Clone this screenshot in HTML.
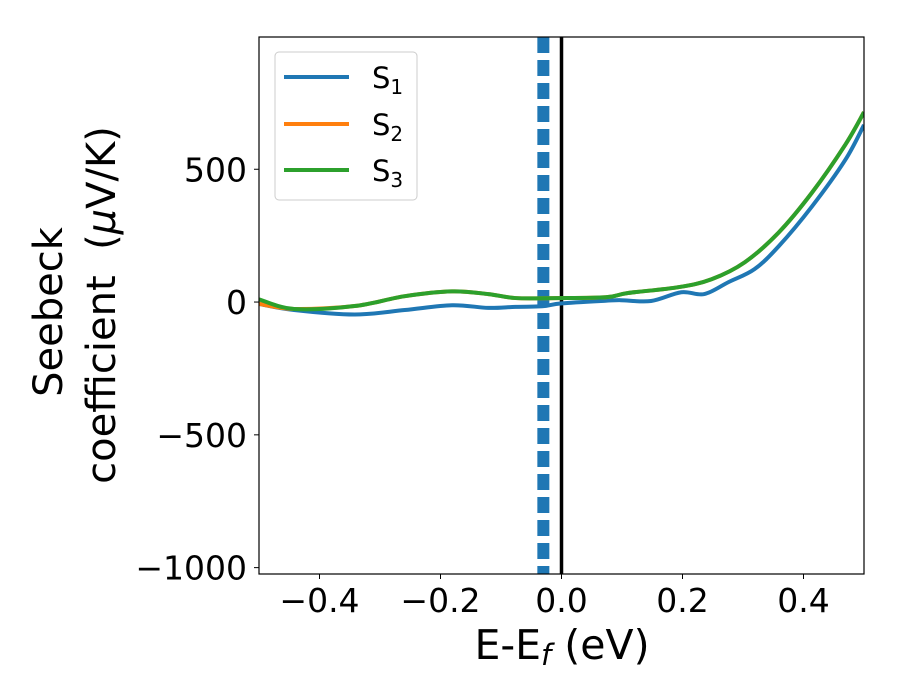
<!DOCTYPE html>
<html><head><meta charset="utf-8"><style>
body{margin:0;background:#fff}
svg{display:block;font-family:"DejaVu Sans","Liberation Sans",sans-serif}
</style></head><body>
<svg id="chart" width="900" height="700" viewBox="0 0 900 700">
<rect width="900" height="700" fill="#fff"/>
<g id="plot"></g>
<g><text x="562" y="659" font-size="41" text-anchor="middle" font-family="DejaVu Sans, sans-serif">E-E<tspan font-style="italic" font-size="29" dy="6">f</tspan><tspan dy="-6"> (eV)</tspan></text></g>
<g font-family="DejaVu Sans, sans-serif" font-size="40" text-anchor="middle">
<text transform="translate(62,312) rotate(-90)">Seebeck</text>
<text transform="translate(115,305) rotate(-90)">coefficient&#160; (<tspan font-style="italic">μ</tspan>V/K)</text>
</g>
<g font-family="DejaVu Sans, sans-serif" font-size="29">
<rect x="275" y="52" width="142" height="148" rx="4" fill="#fff" fill-opacity="0.8" stroke="#ccc"/>
<line x1="284" x2="349" y1="77" y2="77" stroke="#1f77b4" stroke-width="4"/>
<text x="372" y="88">S<tspan font-size="20" dy="6">1</tspan></text>
<line x1="284" x2="349" y1="124" y2="124" stroke="#ff7f0e" stroke-width="4"/>
<text x="372" y="135">S<tspan font-size="20" dy="6">2</tspan></text>
<line x1="284" x2="349" y1="170" y2="170" stroke="#2ca02c" stroke-width="4"/>
<text x="372" y="181">S<tspan font-size="20" dy="6">3</tspan></text>
</g>
</svg>
<script>
const xTicks=[-0.4,-0.2,0.0,0.2,0.4];
const xTickLabels=["\u22120.4","\u22120.2","0.0","0.2","0.4"];
const yTicks=[500,0,-500,-1000];
const yTickLabels=["500","0","\u2212500","\u22121000"];
const s1X=[-0.5,-0.442,-0.342,-0.259,-0.181,-0.121,-0.076,-0.032,0.0,0.073,0.098,0.148,0.198,0.236,0.276,0.319,0.359,0.414,0.469,0.5];
const s1Y=[-7,-30,-47,-30,-12,-22,-18,-16,-5,5,7,4,37,30,75,124,210,360,535,667];
const s23X=[-0.5,-0.442,-0.342,-0.259,-0.181,-0.121,-0.076,-0.01,0.073,0.11,0.193,0.248,0.303,0.359,0.414,0.469,0.5];
const s2Y=[-7,-26,-15,22,40,30,15,15,18,34,56,86,150,262,412,592,715];
const s3Y=[10,-26,-15,22,40,30,15,15,18,34,56,86,150,262,412,592,715];
const vlineDash=-0.03, vlineSolid=0.0;

const L=259,R=864,T=37,B=574,xmin=-0.5,xmax=0.5,ymin=-1024,ymax=998;
const sx=v=>L+(v-xmin)/(xmax-xmin)*(R-L);
const sy=v=>B-(v-ymin)/(ymax-ymin)*(B-T);
const NS="http://www.w3.org/2000/svg";
const g=document.getElementById('plot');
function mk(t,a,p){const e=document.createElementNS(NS,t);for(const k in a)e.setAttribute(k,a[k]);(p||g).appendChild(e);return e;}
function path(xs,ys){const P=xs.map((x,i)=>[sx(x),sy(ys[i])]);let d=`M${P[0][0]},${P[0][1]}`;
for(let i=0;i<P.length-1;i++){const p0=P[Math.max(0,i-1)],p1=P[i],p2=P[i+1],p3=P[Math.min(P.length-1,i+2)];
const c1=[p1[0]+(p2[0]-p0[0])/6,p1[1]+(p2[1]-p0[1])/6],c2=[p2[0]-(p3[0]-p1[0])/6,p2[1]-(p3[1]-p1[1])/6];
d+=`C${c1[0]},${c1[1]} ${c2[0]},${c2[1]} ${p2[0]},${p2[1]}`;}return d;}
const clip=mk('clipPath',{id:'cp'});mk('rect',{x:L,y:T,width:R-L,height:B-T},clip);
const dl=mk('line',{x1:sx(vlineDash),x2:sx(vlineDash),y1:T,y2:B,stroke:'#1f77b4','stroke-width':12,'stroke-dasharray':'16 7'});


const sl=mk('line',{x1:sx(vlineSolid),x2:sx(vlineSolid),y1:T,y2:B,stroke:'#000','stroke-width':3.5});


const series=[[s1X,s1Y,'#1f77b4','series-s1'],[s23X,s2Y,'#ff7f0e','series-s2'],[s23X,s3Y,'#2ca02c','series-s3']];
series.forEach(s=>{const p=mk('path',{d:path(s[0],s[1]),fill:'none',stroke:s[2],'stroke-width':4,'clip-path':'url(#cp)'});

});
const fr=mk('rect',{x:L,y:T,width:R-L,height:B-T,fill:'none',stroke:'#000','stroke-width':1.2});


xTicks.forEach((v,i)=>{mk('line',{x1:sx(v),x2:sx(v),y1:B,y2:B+5,stroke:'#000'});
const t=mk('text',{x:sx(v),y:612,'font-size':33,'text-anchor':'middle'});t.textContent=xTickLabels[i];

});
yTicks.forEach((v,i)=>{mk('line',{x1:L-5,x2:L,y1:sy(v),y2:sy(v),stroke:'#000'});
const t=mk('text',{x:247,y:sy(v)+12,'font-size':33,'text-anchor':'end'});t.textContent=yTickLabels[i];

});
</script>
</body></html>
